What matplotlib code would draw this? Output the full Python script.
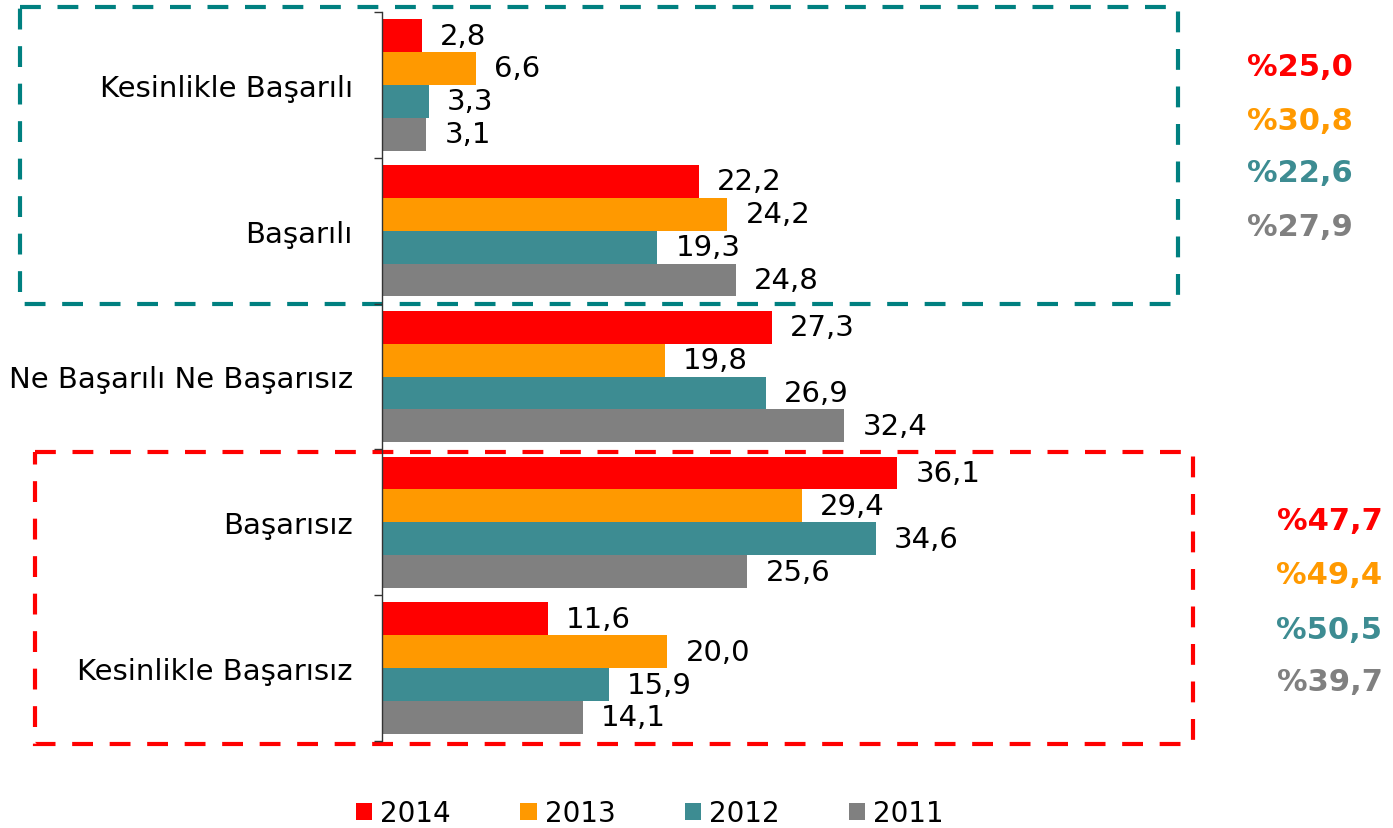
import matplotlib
matplotlib.use("Agg")
import matplotlib.pyplot as plt
from matplotlib.patches import Rectangle
import numpy as np

plt.rcParams['font.family'] = ['DejaVu Sans']

categories = ["Kesinlikle Başarılı", "Başarılı", "Ne Başarılı Ne Başarısız",
              "Başarısız", "Kesinlikle Başarısız"]
years = ["2014", "2013", "2012", "2011"]
colors = ["#FF0000", "#FF9900", "#3D8C92", "#808080"]

v2014 = [2.8, 22.2, 27.3, 36.1, 11.6]
v2013 = [6.6, 24.2, 19.8, 29.4, 20.0]
v2012 = [3.3, 19.3, 26.9, 34.6, 15.9]
v2011 = [3.1, 24.8, 32.4, 25.6, 14.1]
series = [v2014, v2013, v2012, v2011]

W, H = 1393, 829
fig = plt.figure(figsize=(W / 100, H / 100), dpi=100)
ax = fig.add_axes([382 / W, 1 - 742 / H, 999 / W, 729 / H])

fs = 21
bar_h = 0.225
y = np.arange(len(categories))
for k, (vals, col, yr) in enumerate(zip(series, colors, years)):
    pos = y + (k - 1.5) * bar_h
    ax.barh(pos, vals, height=bar_h, color=col, label=yr, linewidth=0)
    for p, v in zip(pos, vals):
        ax.annotate(f"{v:.1f}".replace(".", ","), (v, p), xytext=(13, 0),
                    textcoords="offset points", ha="left", va="center",
                    fontsize=fs, color="black")

ax.set_xlim(0, 70)
ax.set_ylim(len(categories) - 0.5, -0.5)

# axis styling: only the left spine, ticks at category boundaries
for s in ["top", "right", "bottom"]:
    ax.spines[s].set_visible(False)
ax.spines["left"].set_color("#333333")
ax.spines["left"].set_linewidth(1)
ax.set_xticks([])
ax.set_yticks(np.arange(len(categories) + 1) - 0.5)
ax.set_yticklabels([])
ax.tick_params(axis="y", which="major", length=6, width=1, color="#333333")
ax.set_yticks(y, minor=True)
ax.set_yticklabels(categories, minor=True, fontsize=fs)
ax.tick_params(axis="y", which="minor", length=0, pad=21)

# dashed group frames
top_box = Rectangle((-25.4, -0.534), 81.2, 2.037, fill=False, edgecolor="#008080",
                    linewidth=3, linestyle=(0, (5, 4)), clip_on=False,
                    transform=ax.transData)
bot_box = Rectangle((-24.3, 2.518), 81.1, 2.0, fill=False, edgecolor="#FF0000",
                    linewidth=3, linestyle=(0, (5, 4)), clip_on=False,
                    transform=ax.transData)
ax.add_patch(top_box)
ax.add_patch(bot_box)

# group totals per year
pos_sum = [s[0] + s[1] for s in series]
neg_sum = [s[3] + s[4] for s in series]
top_y = [-0.123, 0.241, 0.604, 0.968]
bot_y = [2.991, 3.361, 3.732, 4.095]
for t, yy, col in zip(pos_sum, top_y, colors):
    ax.text(68.0, yy, "%" + f"{t:.1f}".replace(".", ","), ha="right", va="center",
            fontsize=22, fontweight="bold", color=col, clip_on=False)
for t, yy, col in zip(neg_sum, bot_y, colors):
    ax.text(70.1, yy, "%" + f"{t:.1f}".replace(".", ","), ha="right", va="center",
            fontsize=22, fontweight="bold", color=col, clip_on=False)

leg = ax.legend(loc="center", bbox_to_anchor=(650 / W, 1 - 814 / H),
                bbox_transform=fig.transFigure, ncol=4, frameon=False,
                fontsize=20, handlelength=0.58, handleheight=0.58,
                handletextpad=0.29, columnspacing=2.5, borderaxespad=0)

fig.savefig("out.png", dpi=100)
